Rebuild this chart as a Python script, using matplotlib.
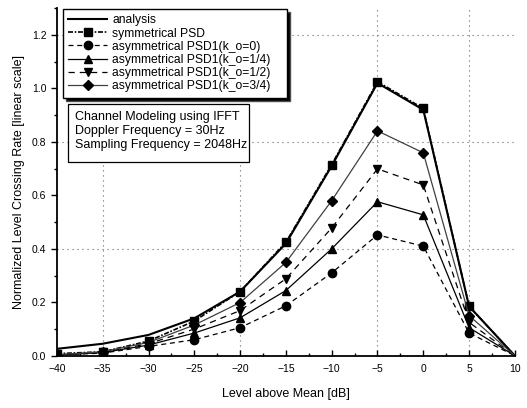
import matplotlib
matplotlib.use('Agg')
import matplotlib.pyplot as plt
from matplotlib.patches import Rectangle
from matplotlib.ticker import MultipleLocator

plt.rcParams['font.family'] = ['Liberation Sans', 'DejaVu Sans']

# level above mean [dB]
levels = [-40, -35, -30, -25, -20, -15, -10, -5, 0, 5, 10]

analysis = [0.026, 0.045, 0.078, 0.14, 0.24, 0.42, 0.71, 1.02, 0.92, 0.185, 0.0]
sym_psd = [0.008, 0.015, 0.055, 0.13, 0.24, 0.425, 0.715, 1.025, 0.925, 0.185, 0.0]
asym_k0 = [0.003, 0.010, 0.035, 0.060, 0.105, 0.187, 0.31, 0.452, 0.41, 0.085, 0.0]
asym_k14 = [0.003, 0.012, 0.040, 0.085, 0.142, 0.244, 0.40, 0.576, 0.527, 0.105, 0.0]
asym_k12 = [0.003, 0.013, 0.045, 0.100, 0.169, 0.288, 0.478, 0.699, 0.639, 0.125, 0.0]
asym_k34 = [0.004, 0.015, 0.050, 0.115, 0.199, 0.349, 0.58, 0.841, 0.759, 0.150, 0.0]

fig = plt.figure(figsize=(5.27, 4.08), dpi=100)
ax = fig.add_axes([0.108, 0.128, 0.869, 0.852])

# sparse dotted grid
for gx in [-35, -20, -5, 5]:
    ax.axvline(gx, color='0.4', lw=0.8, ls=(0, (1, 3.5)), zorder=0)
for gy in [0.4, 0.8, 1.2]:
    ax.axhline(gy, color='0.4', lw=0.8, ls=(0, (1, 3.5)), zorder=0)

mk = slice(0, -1)
ax.plot(levels, analysis, '-', color='black', lw=1.5, label='analysis')
ax.plot(levels, sym_psd, color='black', lw=1.2, ls=(0, (3, 1, 1, 1)),
        marker='s', ms=5.5, markevery=mk, label='symmetrical PSD')
ax.plot(levels, asym_k0, color='black', lw=0.9, ls=(0, (4, 3)),
        marker='o', ms=6, markevery=mk, label='asymmetrical PSD1(k_o=0)')
ax.plot(levels, asym_k14, color='black', lw=0.9, ls='-',
        marker='^', ms=6, markevery=mk, label='asymmetrical PSD1(k_o=1/4)')
ax.plot(levels, asym_k12, color='black', lw=0.9, ls=(0, (5, 4)),
        marker='v', ms=6, markevery=mk, label='asymmetrical PSD1(k_o=1/2)')
ax.plot(levels, asym_k34, color='0.25', lw=0.9, ls='-', mfc='black', mec='black',
        marker='D', ms=5.5, markevery=mk, label='asymmetrical PSD1(k_o=3/4)')

ax.set_xlim(-40, 10)
ax.set_ylim(0, 1.3)
ax.xaxis.set_major_locator(MultipleLocator(5))
ax.xaxis.set_minor_locator(MultipleLocator(2.5))
ax.yaxis.set_minor_locator(MultipleLocator(0.1))
ax.set_yticks([0.0, 0.2, 0.4, 0.6, 0.8, 1.0, 1.2])
ax.set_yticklabels(['0.0', '0.2', '0.4', '0.6', '0.8', '1.0', '1.2'])

ax.spines['top'].set_visible(False)
ax.spines['right'].set_visible(False)
ax.spines['left'].set_linewidth(1.3)
ax.spines['bottom'].set_linewidth(1.3)
ax.tick_params(axis='x', which='major', direction='in', length=4, width=1, labelsize=7.5, pad=6)
ax.tick_params(axis='x', which='minor', direction='in', length=2.5, width=1)
ax.tick_params(axis='y', which='major', direction='out', length=4, width=1, labelsize=7.5)
ax.tick_params(axis='y', which='minor', direction='out', length=2.5, width=1)

ax.set_xlabel('Level above Mean [dB]', fontsize=9, labelpad=10)
ax.set_ylabel('Normalized Level Crossing Rate [linear scale]', fontsize=9, labelpad=5)

leg = ax.legend(loc='upper left', bbox_to_anchor=(0.013, 0.0, 0.489, 0.998),
                mode='expand', fontsize=8.7, borderaxespad=0.0,
                frameon=True, fancybox=False, edgecolor='black',
                shadow={'facecolor': 'black', 'alpha': 1.0},
                labelspacing=0.1, handlelength=3.2, handletextpad=0.45,
                borderpad=0.45)
leg.get_frame().set_linewidth(1.0)

# simulation settings box
ax.add_patch(Rectangle((0.024, 0.557), 0.395, 0.167, transform=ax.transAxes,
                       facecolor='white', edgecolor='black', lw=0.9, zorder=4))
ax.text(0.039, 0.704, 'Channel Modeling using IFFT\nDoppler Frequency = 30Hz\n'
        'Sampling Frequency = 2048Hz', transform=ax.transAxes, fontsize=9,
        va='top', ha='left', linespacing=1.2, zorder=5)

plt.savefig('out.png', dpi=100)
